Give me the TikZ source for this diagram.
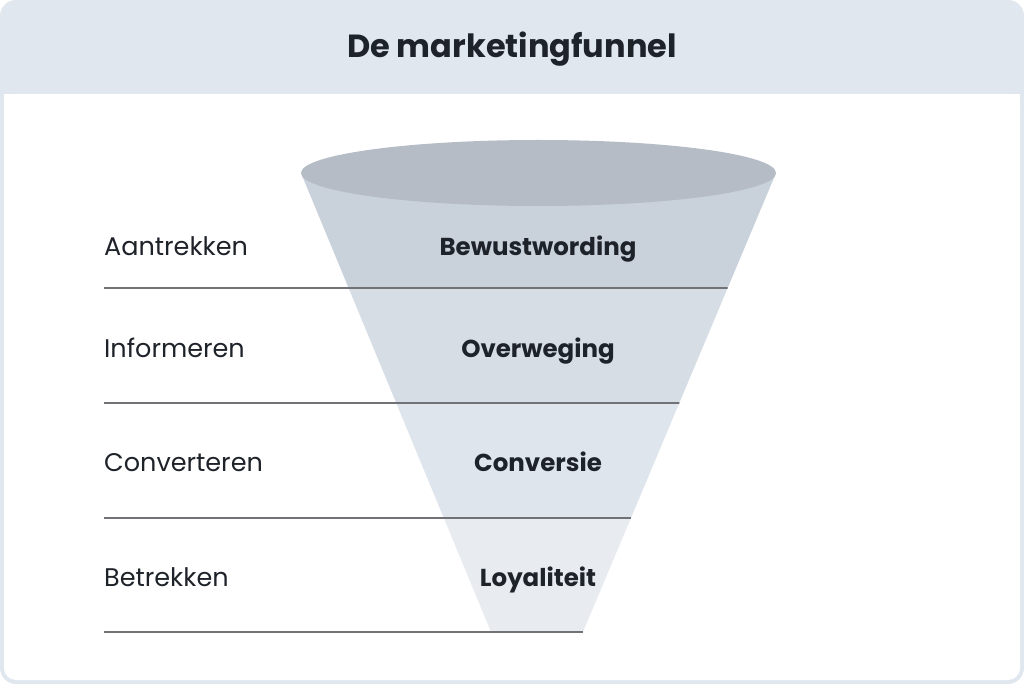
\documentclass[tikz,border=0pt]{standalone}
\usepackage{fontspec}
\setmainfont{Poppins}
\usetikzlibrary{calc}
\definecolor{frame}{HTML}{E1E7EF}
\definecolor{txt}{HTML}{1E232A}
\definecolor{rim}{HTML}{B5BCC5}
\definecolor{band1}{HTML}{C9D1DB}
\definecolor{band2}{HTML}{D6DDE5}
\definecolor{band3}{HTML}{DFE5EC}
\definecolor{band4}{HTML}{E8ECF1}
\definecolor{rule}{HTML}{707276}
\begin{document}
\begin{tikzpicture}[x=1pt,y=-1pt,
  lbl/.style={anchor=base west,text=txt,font=\fontsize{25.5}{30}\selectfont,inner sep=0pt},
  stage/.style={anchor=base,text=txt,font=\fontsize{24.5}{30}\selectfont\bfseries,inner sep=0pt},
  sep/.style={draw=rule,line width=1.6pt}]
\useasboundingbox (0,0) rectangle (1024,684);
% frame
\fill[frame,rounded corners=16pt] (0,0) rectangle (1024,684);
\fill[white,rounded corners=12pt] (4,94) rectangle (1020,680);
\fill[white] (4,94) rectangle (1020,120);
\node[anchor=base,inner sep=0pt,text=txt,font=\fontsize{32}{38}\selectfont\bfseries] (title) at (512,58) {De marketingfunnel};
% funnel geometry
\coordinate (TL) at (301,173);
\coordinate (TR) at (776,173);
\coordinate (BL) at (491,632);
\coordinate (BR) at (583,632);
\foreach \ya/\yb/\c in {173/288/band1,288/403/band2,403/518/band3,518/632/band4}{
  \fill[\c] ($(TL)!{(\ya-173)/459}!(BL)$) -- ($(TR)!{(\ya-173)/459}!(BR)$)
     -- ($(TR)!{(\yb-173)/459}!(BR)$) -- ($(TL)!{(\yb-173)/459}!(BL)$) -- cycle;
}
\fill[rim] (538.5,173) ellipse [x radius=237.5, y radius=33];
% separators
\coordinate (L1) at (104,288); \coordinate (R1) at ($(TR)!{115/459}!(BR)$);
\coordinate (L2) at (104,403); \coordinate (R2) at ($(TR)!{230/459}!(BR)$);
\coordinate (L3) at (104,518); \coordinate (R3) at ($(TR)!{345/459}!(BR)$);
\coordinate (L4) at (104,632);
\draw[sep] (L1) -- (R1);
\draw[sep] (L2) -- (R2);
\draw[sep] (L3) -- (R3);
\draw[sep] (L4) -- (BR);
% labels
\node[lbl] (a1) at (104,256) {Aantrekken};
\node[lbl] (a2) at (104,357) {Informeren};
\node[lbl] (a3) at (104,471) {Converteren};
\node[lbl] (a4) at (104,586) {Betrekken};
\node[stage] (s1) at (538,256) {Bewustwording};
\node[stage] (s2) at (538,357) {Overweging};
\node[stage] (s3) at (538,471) {Conversie};
\node[stage] (s4) at (538,586) {Loyaliteit};
\end{tikzpicture}
\end{document}
